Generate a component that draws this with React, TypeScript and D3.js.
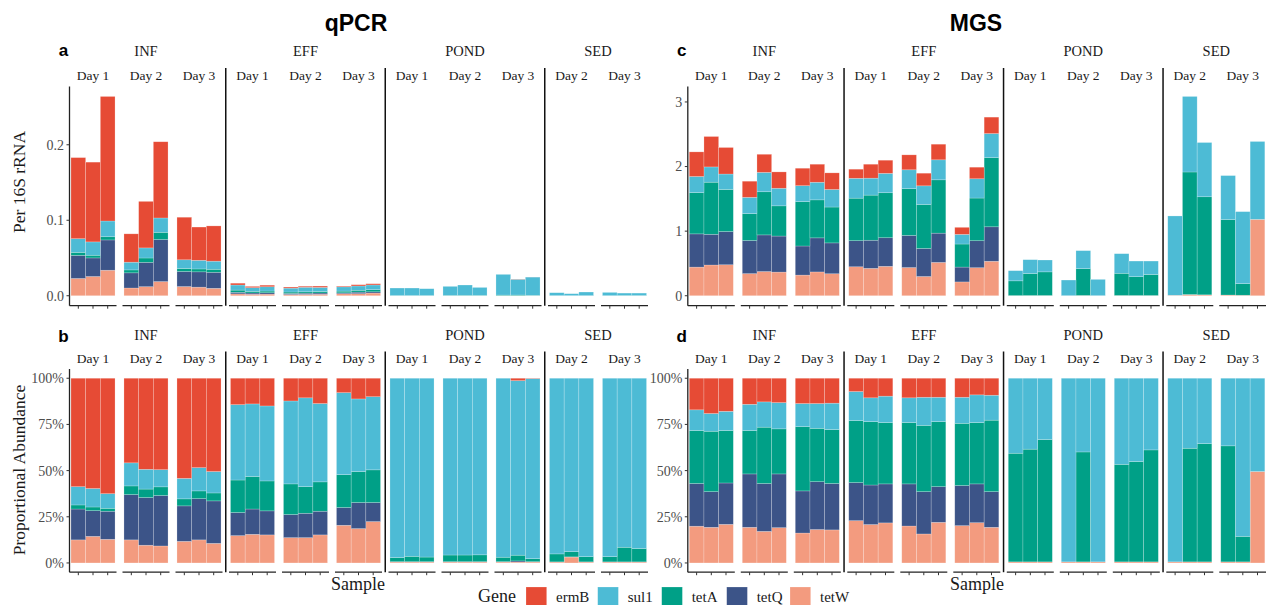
import React from "react";
import * as d3 from "d3";

// ---------- data ----------
const sites = ["INF", "EFF", "POND", "SED"];
const daysBySite = [
  ["Day 1", "Day 2", "Day 3"],
  ["Day 1", "Day 2", "Day 3"],
  ["Day 1", "Day 2", "Day 3"],
  ["Day 2", "Day 3"],
];
const genes = ["ermB", "sul1", "tetA", "tetQ", "tetW"];
const geneColors = ["#E64B35", "#4DBBD5", "#00A087", "#3C5488", "#F39B7F"];
const stackOrder = ["tetW", "tetQ", "tetA", "sul1", "ermB"];

// qPCR: total per 16S rRNA and gene shares (3 samples per day)
const qpcrTotal = [0.183, 0.177, 0.264, 0.082, 0.125, 0.204, 0.104, 0.091, 0.0925, 0.0166, 0.0124, 0.014, 0.0115, 0.0126, 0.0128, 0.0128, 0.0146, 0.0159, 0.0102, 0.0102, 0.0093, 0.0124, 0.0142, 0.011, 0.0283, 0.0221, 0.0248, 0.004, 0.0027, 0.0049, 0.0044, 0.0035, 0.0035];
const qpcrTetW = [0.125, 0.144, 0.128, 0.125, 0.096, 0.092, 0.117, 0.125, 0.106, 0.148, 0.155, 0.152, 0.137, 0.137, 0.152, 0.204, 0.186, 0.224, 0.005, 0.005, 0.005, 0.005, 0.005, 0.005, 0.005, 0.005, 0.005, 0.005, 0.032, 0.005, 0.005, 0.005, 0.005];
const qpcrTetQ = [0.167, 0.139, 0.152, 0.245, 0.258, 0.273, 0.192, 0.223, 0.23, 0.125, 0.137, 0.13, 0.125, 0.132, 0.128, 0.096, 0.141, 0.103, 0.002, 0.002, 0.002, 0.002, 0.002, 0.002, 0.002, 0.006, 0.002, 0.001, 0.001, 0.001, 0.001, 0.001, 0.001];
const qpcrTetA = [0.022, 0.02, 0.016, 0.047, 0.046, 0.047, 0.038, 0.042, 0.043, 0.176, 0.176, 0.162, 0.166, 0.144, 0.159, 0.178, 0.168, 0.177, 0.022, 0.029, 0.025, 0.036, 0.036, 0.037, 0.024, 0.031, 0.016, 0.043, 0.028, 0.028, 0.028, 0.079, 0.072];
const qpcrSul1 = [0.099, 0.1, 0.079, 0.125, 0.107, 0.093, 0.111, 0.126, 0.116, 0.408, 0.393, 0.406, 0.449, 0.481, 0.424, 0.444, 0.393, 0.396, 0.971, 0.964, 0.968, 0.957, 0.957, 0.956, 0.969, 0.945, 0.975, 0.951, 0.939, 0.966, 0.966, 0.915, 0.922];
const qpcrErmB = [0.587, 0.597, 0.625, 0.458, 0.493, 0.495, 0.542, 0.484, 0.505, 0.143, 0.139, 0.15, 0.123, 0.106, 0.137, 0.078, 0.112, 0.1, 0, 0, 0, 0, 0, 0, 0, 0.013, 0.002, 0, 0, 0, 0, 0, 0];

// MGS: total per 16S rRNA and gene shares
const mgsTotal = [2.227, 2.465, 2.295, 1.773, 2.19, 1.917, 1.974, 2.036, 1.902, 1.959, 2.036, 2.098, 2.181, 1.897, 2.346, 1.059, 1.99, 2.765, 0.388, 0.558, 0.553, 0.243, 0.698, 0.253, 0.651, 0.537, 0.537, 1.235, 3.085, 2.372, 1.86, 1.302, 2.388];
const mgsTetW = [0.199, 0.193, 0.209, 0.193, 0.171, 0.191, 0.162, 0.181, 0.179, 0.229, 0.208, 0.217, 0.2, 0.157, 0.22, 0.202, 0.218, 0.193, 0.006, 0.006, 0.006, 0.006, 0.006, 0.006, 0.006, 0.006, 0.006, 0.006, 0.006, 0.006, 0.006, 0.006, 0.495];
const mgsTetQ = [0.231, 0.193, 0.224, 0.289, 0.259, 0.291, 0.228, 0.259, 0.251, 0.206, 0.214, 0.211, 0.228, 0.229, 0.193, 0.217, 0.21, 0.193, 0, 0, 0, 0, 0, 0, 0, 0, 0, 0, 0, 0, 0, 0, 0];
const mgsTetA = [0.287, 0.327, 0.284, 0.235, 0.305, 0.244, 0.348, 0.289, 0.292, 0.336, 0.343, 0.332, 0.332, 0.359, 0.352, 0.337, 0.332, 0.387, 0.588, 0.61, 0.662, 0, 0.595, 0, 0.528, 0.543, 0.606, 0, 0.615, 0.64, 0.628, 0.138, 0];
const mgsSul1 = [0.112, 0.096, 0.104, 0.142, 0.137, 0.142, 0.125, 0.134, 0.143, 0.157, 0.129, 0.143, 0.134, 0.152, 0.132, 0.141, 0.15, 0.135, 0.406, 0.384, 0.332, 0.994, 0.399, 0.994, 0.466, 0.451, 0.388, 0.994, 0.379, 0.354, 0.366, 0.856, 0.505];
const mgsErmB = [0.171, 0.191, 0.179, 0.141, 0.128, 0.132, 0.137, 0.137, 0.135, 0.072, 0.106, 0.097, 0.106, 0.103, 0.103, 0.103, 0.09, 0.092, 0, 0, 0, 0, 0, 0, 0, 0, 0, 0, 0, 0, 0, 0, 0];

const topTicksQ = [0, 0.1, 0.2];
const topTicksM = [0, 1, 2, 3];
const propTicks = [0, 0.25, 0.5, 0.75, 1];

// ---------- helpers ----------
type Rec = { [k: string]: number };

function buildRecords(total: number[], shares: { [g: string]: number[] }, proportional: boolean): Rec[] {
  return total.map((t, i) => {
    const sum = stackOrder.reduce((s, g) => s + shares[g][i], 0);
    const r: Rec = {};
    stackOrder.forEach((g) => {
      const p = shares[g][i] / sum;
      r[g] = proportional ? p : p * t;
    });
    return r;
  });
}

const qShares = { tetW: qpcrTetW, tetQ: qpcrTetQ, tetA: qpcrTetA, sul1: qpcrSul1, ermB: qpcrErmB };
const mShares = { tetW: mgsTetW, tetQ: mgsTetQ, tetA: mgsTetA, sul1: mgsSul1, ermB: mgsErmB };

const facets: { site: string; g: number; day: string; f: number }[] = [];
sites.forEach((s, gi) => daysBySite[gi].forEach((d) => facets.push({ site: s, g: gi, day: d, f: facets.length })));

const FW = 47; // facet panel width
const GAP = 6; // gap between days
const GGAP = 6.5; // gap between sites
const facetLeft = (x0: number, f: number, g: number) => x0 + f * (FW + GAP) + g * (GGAP - GAP);

const SERIF = "'Liberation Serif', 'Times New Roman', serif";
const SANS = "'Liberation Sans', Arial, sans-serif";
const colorOf = (g: string) => geneColors[genes.indexOf(g)];

type PanelProps = {
  x0: number;
  y: d3.ScaleLinear<number, number>;
  ticks: number[];
  fmt: (v: number) => string;
  records: Rec[];
  outerBase: number;
  dayBase: number;
  sepTop: number;
  letter: string;
  letterBase: number;
};

function Panel({ x0, y, ticks, fmt, records, outerBase, dayBase, sepTop, letter, letterBase }: PanelProps) {
  const [axisY, topY] = y.range();
  const series = d3.stack<Rec>().keys(stackOrder)(records);
  const groupRange = sites.map((_, gi) => {
    const fs = facets.filter((fc) => fc.g === gi);
    const l = facetLeft(x0, fs[0].f, gi);
    const r = facetLeft(x0, fs[fs.length - 1].f, gi) + FW;
    return [l, r];
  });
  return (
    <g>
      <text x={x0 - 6} y={letterBase} fontFamily={SANS} fontWeight="bold" fontSize={17} textAnchor="middle">{letter}</text>
      {/* bars */}
      {facets.map((fc) => {
        const left = facetLeft(x0, fc.f, fc.g);
        const xb = d3.scaleBand<number>().domain([0, 1, 2]).range([left, left + FW]).paddingInner(0).paddingOuter(0.1);
        return (
          <g key={"f" + fc.f}>
            {series.map((s) =>
              [0, 1, 2].map((k) => {
                const i = fc.f * 3 + k;
                if (i >= records.length) return null;
                const [v0, v1] = s[i];
                const h = y(v0) - y(v1);
                if (h <= 0.01) return null;
                return (
                  <rect key={s.key + k} x={xb(k)} y={y(v1)} width={xb.bandwidth()} height={h}
                    fill={colorOf(s.key)} stroke="#ffffff" strokeOpacity={0.35} strokeWidth={0.6} />
                );
              })
            )}
            <line x1={left} x2={left + FW} y1={axisY} y2={axisY} stroke="#222" strokeWidth={1.3} />
            {[0, 1, 2].map((k) => {
              const cx = (xb(k) as number) + xb.bandwidth() / 2;
              return <line key={"t" + k} x1={cx} x2={cx} y1={axisY} y2={axisY + 3} stroke="#333" strokeWidth={1} />;
            })}
            <text x={left + FW / 2} y={dayBase} fontFamily={SERIF} fontSize={13.5} textAnchor="middle" fill="#1a1a1a">{fc.day}</text>
          </g>
        );
      })}
      {/* site strips and separators */}
      {sites.map((s, gi) => (
        <text key={s} x={(groupRange[gi][0] + groupRange[gi][1]) / 2} y={outerBase} fontFamily={SERIF} fontSize={14.5} textAnchor="middle" fill="#1a1a1a">{s}</text>
      ))}
      {sites.slice(0, -1).map((s, gi) => {
        const sx = groupRange[gi][1] + GGAP / 2;
        return <line key={"sep" + s} x1={sx} x2={sx} y1={sepTop} y2={axisY} stroke="#111" strokeWidth={1.5} />;
      })}
      {/* y axis */}
      <line x1={x0} x2={x0} y1={topY} y2={axisY} stroke="#222" strokeWidth={1.3} />
      {ticks.map((t) => (
        <g key={"yt" + t}>
          <line x1={x0 - 3} x2={x0} y1={y(t)} y2={y(t)} stroke="#333" strokeWidth={1} />
          <text x={x0 - 5.5} y={y(t)} dy="0.35em" fontFamily={SERIF} fontSize={14} textAnchor="end" fill="#4D4D4D">{fmt(t)}</text>
        </g>
      ))}
    </g>
  );
}

export default function App() {
  const qAbs = buildRecords(qpcrTotal, qShares, false);
  const qProp = buildRecords(qpcrTotal, qShares, true);
  const mAbs = buildRecords(mgsTotal, mShares, false);
  const mProp = buildRecords(mgsTotal, mShares, true);

  const TOP_AX = 305.7, TOP_TOP = 86.5;
  const BOT_AX = 572.2, BOT_TOP = 369;
  const qMax = d3.max(qpcrTotal) as number;
  const mMax = d3.max(mgsTotal) as number;
  const yQ = d3.scaleLinear().domain([-0.05 * qMax, 1.05 * qMax]).range([TOP_AX, TOP_TOP]);
  const yM = d3.scaleLinear().domain([-0.05 * mMax, 1.05 * mMax]).range([TOP_AX, TOP_TOP]);
  const yP = d3.scaleLinear().domain([-0.05, 1.05]).range([BOT_AX, BOT_TOP]);

  const XL = 69.5, XR = 687.8;
  const legendX = [526, 597.7, 661.7, 726.7, 790];

  return (
    <svg width={1266} height={605} style={{ position: "absolute", left: 0, top: 0, background: "#fff" }}>
      <rect x={0} y={0} width={1266} height={605} fill="#fff" />
      <text x={356} y={31} fontFamily={SANS} fontWeight="bold" fontSize={23} textAnchor="middle">qPCR</text>
      <text x={976} y={31} fontFamily={SANS} fontWeight="bold" fontSize={23} textAnchor="middle">MGS</text>

      <Panel x0={XL} y={yQ} ticks={topTicksQ} fmt={d3.format(".1f")} records={qAbs} outerBase={56} dayBase={80} sepTop={68} letter="a" letterBase={56} />
      <Panel x0={XL} y={yP} ticks={propTicks} fmt={d3.format(".0%")} records={qProp} outerBase={339.5} dayBase={362.5} sepTop={351.5} letter="b" letterBase={342} />
      <Panel x0={XR} y={yM} ticks={topTicksM} fmt={d3.format("d")} records={mAbs} outerBase={56} dayBase={80} sepTop={68} letter="c" letterBase={56} />
      <Panel x0={XR} y={yP} ticks={propTicks} fmt={d3.format(".0%")} records={mProp} outerBase={339.5} dayBase={362.5} sepTop={351.5} letter="d" letterBase={342} />

      <text transform={`translate(25,182) rotate(-90)`} fontFamily={SERIF} fontSize={17.5} textAnchor="middle" fill="#1a1a1a">Per 16S rRNA</text>
      <text transform={`translate(25,470) rotate(-90)`} fontFamily={SERIF} fontSize={17.5} textAnchor="middle" fill="#1a1a1a">Proportional Abundance</text>

      <text x={358} y={590} fontFamily={SERIF} fontSize={18} textAnchor="middle" fill="#1a1a1a">Sample</text>
      <text x={977} y={590} fontFamily={SERIF} fontSize={18} textAnchor="middle" fill="#1a1a1a">Sample</text>

      <text x={478} y={602} fontFamily={SERIF} fontSize={18} fill="#1a1a1a">Gene</text>
      {genes.map((g, i) => (
        <g key={g}>
          <rect x={legendX[i]} y={587} width={20.7} height={20} fill={geneColors[i]} stroke="#ffffff" strokeOpacity={0.35} strokeWidth={0.6} />
          <text x={legendX[i] + 30} y={602} fontFamily={SERIF} fontSize={15} fill="#1a1a1a">{g}</text>
        </g>
      ))}
    </svg>
  );
}
